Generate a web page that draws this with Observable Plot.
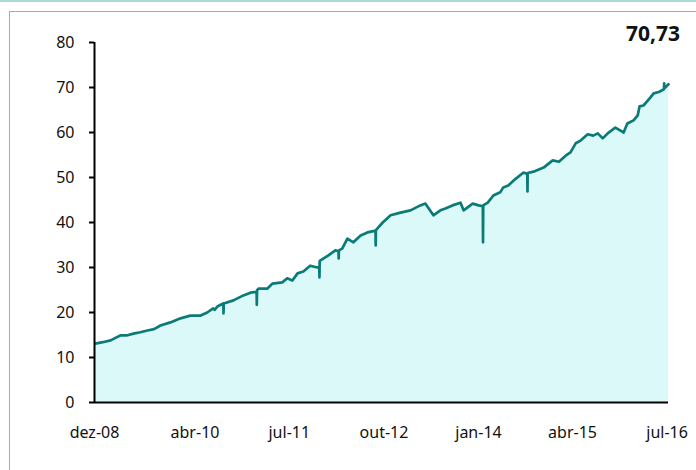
<!DOCTYPE html>
<html>
<head>
<meta charset="utf-8">
<script src="https://cdn.jsdelivr.net/npm/d3@7"></script>
<script src="https://cdn.jsdelivr.net/npm/@observablehq/plot@0.6"></script>
<style>
  html, body { margin: 0; padding: 0; background: #fff; }
  #wrap { position: relative; width: 696px; height: 470px; overflow: hidden; font-family: "Noto Sans", sans-serif; }
  #topstrip { position: absolute; left: 0; top: 0; width: 696px; height: 2px; background: #a9dcd5; }
  #frameTop { position: absolute; left: 9px; top: 11px; width: 700px; height: 1px; background: #ababab; }
  #frameLeft { position: absolute; left: 9px; top: 11px; width: 1px; height: 470px; background: #ababab; }
  #last { position: absolute; right: 16px; top: 19px; font-weight: bold; font-size: 21px; color: #111; }
  #chart { position: absolute; left: 0; top: 0; }
</style>
</head>
<body>
<div id="wrap">
  <div id="topstrip"></div>
  <div id="frameTop"></div>
  <div id="frameLeft"></div>
  <div id="chart"></div>
  <div id="last"></div>
</div>
<script>
const dates = [
  "2008-12-05","2009-01-10","2009-02-17","2009-03-10","2009-04-05","2009-05-05","2009-06-07","2009-07-10",
  "2009-08-14","2009-09-15","2009-10-16","2009-12-03","2010-01-21","2010-03-09","2010-04-26","2010-05-30",
  "2010-06-28","2010-07-05","2010-07-20","2010-08-16","2010-08-17","2010-08-18","2010-10-04","2010-11-21",
  "2010-12-25","2011-01-24","2011-01-25","2011-01-26","2011-02-02","2011-03-16","2011-04-10","2011-05-28",
  "2011-06-21","2011-07-16","2011-08-10","2011-09-07","2011-10-10","2011-11-14","2011-11-23","2011-11-24",
  "2011-11-25","2011-11-29","2012-01-06","2012-02-09","2012-02-24","2012-02-25","2012-02-26","2012-03-13",
  "2012-04-07","2012-05-06","2012-06-10","2012-07-13","2012-08-21","2012-08-22","2012-08-23","2012-09-25",
  "2012-11-02","2012-12-20","2013-02-06","2013-03-26","2013-04-19","2013-05-28","2013-07-01","2013-07-25",
  "2013-08-28","2013-10-06","2013-10-21","2013-12-04","2014-01-02","2014-01-22","2014-01-23","2014-01-24",
  "2014-02-15","2014-03-14","2014-04-16","2014-05-01","2014-05-25","2014-06-19","2014-08-07","2014-08-25",
  "2014-08-26","2014-08-27","2014-09-24","2014-11-12","2014-12-26","2015-01-25","2015-02-28","2015-03-22",
  "2015-04-16","2015-05-10","2015-06-13","2015-07-10","2015-08-01","2015-08-25","2015-09-18","2015-10-25",
  "2015-11-19","2015-12-04","2015-12-22","2016-01-21","2016-02-10","2016-02-19","2016-03-09","2016-04-12",
  "2016-04-27","2016-05-22","2016-06-16","2016-06-17","2016-06-18","2016-07-08"
];
const values = [
  13.1,13.4,13.8,14.3,14.9,14.9,15.3,15.6,
  16.0,16.3,17.1,17.8,18.7,19.3,19.3,20.0,
  20.9,20.6,21.4,22.0,19.8,22.0,22.7,23.8,
  24.4,24.6,21.7,24.9,25.3,25.3,26.4,26.7,
  27.6,27.1,28.7,29.1,30.4,30.0,30.2,27.8,
  31.4,31.6,32.7,33.8,33.6,32.0,33.8,34.2,
  36.4,35.6,37.1,37.8,38.2,34.9,38.3,40.0,
  41.6,42.2,42.7,43.8,44.2,41.6,42.7,43.1,
  43.8,44.4,42.7,44.2,43.8,43.6,35.6,43.8,
  44.4,46.0,46.7,47.8,48.2,49.3,51.1,50.8,
  46.9,51.0,51.3,52.2,53.8,53.5,54.9,55.6,
  57.6,58.2,59.6,59.3,59.8,58.7,59.8,61.1,
  60.4,60.0,62.0,62.7,63.8,65.8,66.0,67.8,
  68.7,69.0,69.6,70.9,69.8,70.73
];
const tickDates = ["2008-12-01","2010-04-01","2011-07-01","2012-10-01","2014-01-01","2015-04-01","2016-07-01"];
const tickLabels = ["dez-08","abr-10","jul-11","out-12","jan-14","abr-15","jul-16"];
const yTicks = [0,10,20,30,40,50,60,70,80];
const lastLabel = "70,73";

const data = dates.map((d, i) => ({date: new Date(d), value: values[i]}));
const ticks = tickDates.map(d => new Date(d));
const labelOf = new Map(ticks.map((t, i) => [+t, tickLabels[i]]));
const x0 = new Date("2008-12-01");
const x1 = new Date("2016-07-08");

const chart = Plot.plot({
  width: 696,
  height: 470,
  marginTop: 42,
  marginBottom: 68,
  marginLeft: 94,
  marginRight: 28,
  style: {fontFamily: "'Noto Sans', sans-serif", fontSize: "16px", background: "transparent", color: "#111"},
  x: {type: "utc", domain: [x0, x1]},
  y: {domain: [0, 80]},
  marks: [
    Plot.areaY(data, {x: "date", y: "value", fill: "#dcf9f9", curve: "linear"}),
    Plot.lineY(data, {x: "date", y: "value", stroke: "#0b7b78", strokeWidth: 2.7, curve: "linear"}),
    Plot.ruleY([0], {stroke: "#000", strokeWidth: 2}),
    Plot.ruleX([x0], {stroke: "#000", strokeWidth: 2}),
    Plot.axisY({ticks: yTicks, tickSize: 5, tickPadding: 15, tickFormat: d => String(d), label: null, stroke: "#000", strokeWidth: 2, fontSize: 16}),
    Plot.axisX({ticks: ticks, tickSize: 0, tickPadding: 24, tickFormat: d => labelOf.get(+d), label: null, fontSize: 16})
  ]
});
document.getElementById("chart").appendChild(chart);
document.getElementById("last").textContent = lastLabel;
</script>
</body>
</html>
